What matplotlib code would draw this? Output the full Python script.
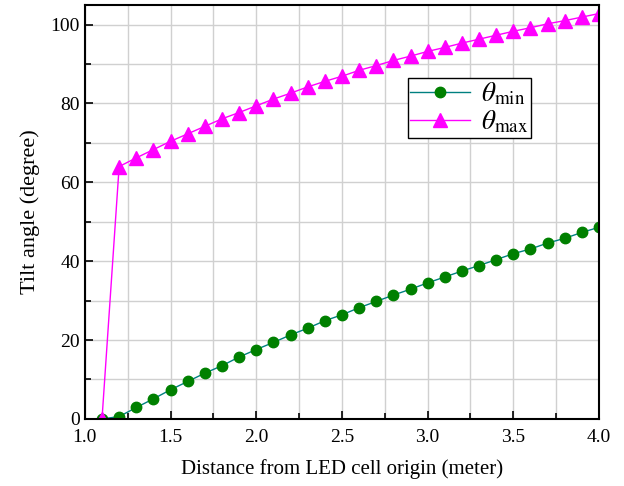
import numpy as np
from matplotlib import pyplot as plt
from matplotlib.ticker import MultipleLocator

plt.rcParams['font.family'] = 'Liberation Serif'
plt.rcParams['mathtext.fontset'] = 'stix'

# distance from LED cell origin (meter)
dist = np.round(np.arange(1.0, 4.01, 0.1), 1)

theta_min = [0, 0, 0.6, 2.9, 5.1, 7.4, 9.5, 11.6, 13.5, 15.7, 17.6,
             19.4, 21.3, 23.0, 24.9, 26.4, 28.2, 29.8, 31.4, 32.9, 34.5,
             36.0, 37.5, 38.9, 40.4, 41.9, 43.1, 44.6, 45.8, 47.3, 48.6]
theta_max = [0, 0, 64.0, 66.2, 68.3, 70.4, 72.3, 74.2, 76.1, 77.7, 79.4,
             81.1, 82.6, 84.2, 85.6, 86.9, 88.4, 89.6, 90.9, 92.0, 93.2,
             94.2, 95.3, 96.3, 97.3, 98.3, 99.2, 100.2, 101.0, 101.9, 102.8]

fig = plt.figure(figsize=(6.24, 4.86), dpi=100)
ax = fig.add_axes([0.136, 0.138, 0.824, 0.852])

# first point (x=1.0) has no visible marker in the original
ax.plot(dist, theta_min, color='#008080', lw=1, marker='o', ms=7.5,
        mfc='#008000', mec='#008000', markevery=slice(1, None),
        label=r'$\theta_{\mathrm{min}}$')
ax.plot(dist, theta_max, color='#ff00ff', lw=1, marker='^', ms=9.5,
        mfc='#ff00ff', mec='#ff00ff', markevery=slice(1, None),
        label=r'$\theta_{\mathrm{max}}$')

ax.set_xlim(1.0, 4.0)
ax.set_ylim(0, 105)
ax.xaxis.set_major_locator(MultipleLocator(0.5))
ax.xaxis.set_minor_locator(MultipleLocator(0.25))
ax.yaxis.set_major_locator(MultipleLocator(20))
ax.yaxis.set_minor_locator(MultipleLocator(10))
ax.xaxis.set_major_formatter(plt.FormatStrFormatter('%.1f'))

ax.grid(True, which='both', color='#d0d0d0', lw=1)
ax.set_axisbelow(True)
ax.tick_params(which='both', direction='in', top=False, right=False,
               labelsize=14, width=1.2)
ax.tick_params(which='major', length=6)
ax.tick_params(which='minor', length=4)
ax.tick_params(axis='x', pad=7)
for s in ax.spines.values():
    s.set_linewidth(1.5)

ax.set_xlabel('Distance from LED cell origin (meter)', fontsize=15, labelpad=10)
ax.set_ylabel('Tilt angle (degree)', fontsize=16, labelpad=8)

leg = ax.legend(loc='upper left', bbox_to_anchor=(0.628, 0.824), fontsize=19.5,
                fancybox=False, edgecolor='black', framealpha=1,
                handlelength=2.2, borderpad=0.1, labelspacing=0.05,
                handletextpad=0.4, borderaxespad=0)
leg.get_frame().set_linewidth(1)

plt.savefig('out.png', dpi=100)
